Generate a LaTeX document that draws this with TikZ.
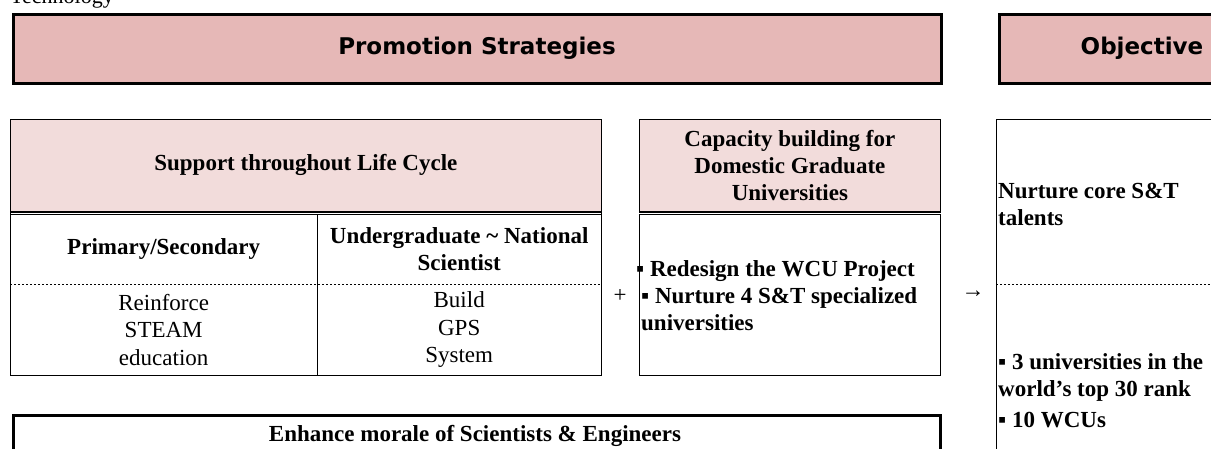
\documentclass[tikz,border=0pt]{standalone}
\usepackage{fontspec}
\setmainfont{Liberation Serif}
\newfontfamily\headfont{DejaVu Sans}
\usepackage{tikz}
\usetikzlibrary{positioning}

\definecolor{headpink}{HTML}{E6B8B7}
\definecolor{cellpink}{HTML}{F2DCDB}

\begin{document}
\begin{tikzpicture}[
    x=1pt, y=-1pt,
    bighead/.style={draw, line width=3pt, fill=headpink, anchor=north west, font=\headfont\bfseries\fontsize{23}{27}\selectfont},
    cellhead/.style={draw, line width=0.8pt, fill=cellpink, anchor=north west, align=center, font=\bfseries\fontsize{23}{27}\selectfont},
    cell/.style={align=center, inner sep=2pt, font=\bfseries\fontsize{23}{27}\selectfont},
    plaincell/.style={align=center, inner sep=2pt, font=\fontsize{23}{27.5}\selectfont},
    frame/.style={draw, line width=0.8pt, anchor=north west},
    thinline/.style={line width=0.8pt},
    dotline/.style={line width=0.8pt, dash pattern=on 2pt off 2pt}
]
    \useasboundingbox (0,0) rectangle (1211,448);

    % top strip
    \node[anchor=base west, inner sep=0pt, font=\fontsize{22}{26}\selectfont] (tech) at (10,3) {Technology};
    \node[bighead, minimum width=928, minimum height=69] (promo) at (11.5,12.5) {Promotion Strategies};
    \node[bighead, minimum width=286, minimum height=69] (goalhead) at (997.5,12.5) {Objective};

    % life cycle table
    \node[cellhead, minimum width=591, minimum height=92] (life) at (10,119) {Support throughout Life Cycle};
    \node[cell, minimum width=307, minimum height=70, anchor=north west] (prim) at (10,214) {Primary/Secondary};
    \node[cell, minimum width=284, minimum height=70, anchor=north west] (under) at (317,214) {Undergraduate \textasciitilde{} National\\Scientist};
    \node[plaincell, minimum width=307, minimum height=91, anchor=north west] (steam) at (10,284) {Reinforce\\STEAM\\education};
    \node[plaincell, minimum width=284, minimum height=91, anchor=north west] (gps) at (317,284) {Build\\GPS\\System};
    \draw[thinline] (life.north west) rectangle (gps.south east);
    \draw[line width=1.5pt] (life.south west) -- (life.south east);
    \draw[thinline] (prim.north west) -- (under.north east);
    \draw[thinline] (prim.north east) -- (steam.south east);
    \draw[dotline] (prim.south west) -- (under.south east);

    % graduate universities
    \node[cellhead, minimum width=301, minimum height=92] (grad) at (639,119) {Capacity building for\\Domestic Graduate\\Universities};
    \node[frame, minimum width=301, minimum height=161] (gradbody) at (639,214) {};
    \node[cell, align=left, anchor=west] (wcu) at (639,296) {\hspace*{-5pt}▪ Redesign the WCU Project\\▪ Nurture 4 S\&T specialized\\universities};
    \draw[thinline] (gradbody.north west) rectangle (gradbody.south east);
    \draw[line width=1.5pt] (grad.south west) -- (grad.south east);

    \node[plaincell] (plus) at (620,296) {+};
    \node[plaincell] (to) at (973,294) {→};

    % objective
    \node[frame, minimum width=286, minimum height=361] (goal) at (996,119) {};
    \node[cell, align=left, anchor=west] (talent) at (996,204) {Nurture core S\&T\\talents};
    \draw[dotline] (goal.west |- 0,284) -- (goal.east |- 0,284);
    \node[cell, align=left, anchor=west] (rank) at (996,391) {▪ 3 universities in the\\world’s top 30 rank\\[4pt]▪ 10 WCUs};

    % morale
    \node[frame, line width=3pt, minimum width=927, minimum height=80] (morale) at (11.5,413.5) {};
    \node[cell] (moraletext) at (475,436) {Enhance morale of Scientists \& Engineers};
\end{tikzpicture}
\end{document}
